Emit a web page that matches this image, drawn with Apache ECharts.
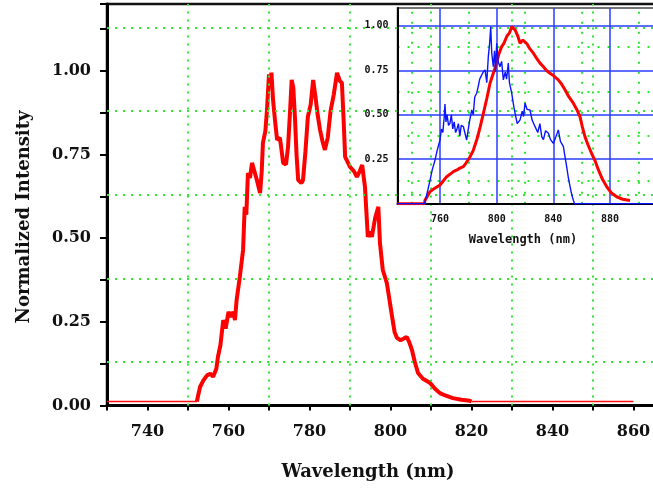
<!DOCTYPE html>
<html>
<head>
<meta charset="utf-8">
<script src="https://cdn.jsdelivr.net/npm/echarts@6/dist/echarts.min.js"></script>
<style>
  html, body { margin: 0; padding: 0; background: #fff; }
  #chart { width: 653px; height: 489px; }
</style>
</head>
<body>
<div id="chart"></div>
<script>
// main spectrum (nm, normalized)
const mainWl = [752.2, 752.5, 753, 753.8, 754.7, 755.5, 756.2, 757, 757.4, 758, 758.7, 759.3, 760, 760.6, 761.2, 761.6, 762, 762.8, 763.6, 764,
  764.4, 764.8, 765.3, 765.8, 766.4, 767, 767.8, 768.2, 768.5, 769.1, 769.5, 770, 770.3, 770.6, 771, 771.5, 772, 772.7, 773.5, 774.2,
  774.7, 775.2, 775.6, 776, 776.4, 776.8, 777.2, 778, 778.4, 779, 779.6, 780.3, 780.9, 781.5, 782, 782.6, 783.2, 783.8, 784.5, 785.2,
  786, 786.8, 787.5, 788, 788.4, 788.8, 790, 791, 791.7, 792.4, 793, 793.7, 794.4, 795, 795.4, 796.2, 797, 797.4, 798.1, 799.1,
  800.4, 801, 801.6, 802.5, 803.3, 804, 804.6, 805.3, 806, 806.8, 808, 809.8, 811, 812.2, 813.5, 815.4, 817.5, 819.6, 820];
const mainVal = [0.012, 0.03, 0.056, 0.075, 0.09, 0.095, 0.086, 0.11, 0.146, 0.18, 0.255, 0.23, 0.28, 0.265, 0.28, 0.255, 0.315, 0.385, 0.465, 0.594,
  0.57, 0.695, 0.68, 0.725, 0.70, 0.674, 0.635, 0.70, 0.785, 0.82, 0.883, 0.99, 0.96, 0.995, 0.913, 0.85, 0.794, 0.80, 0.725, 0.72,
  0.773, 0.88, 0.973, 0.95, 0.863, 0.75, 0.674, 0.665, 0.674, 0.76, 0.863, 0.90, 0.973, 0.92, 0.87, 0.824, 0.79, 0.764, 0.80, 0.88,
  0.93, 0.994, 0.97, 0.964, 0.86, 0.743, 0.713, 0.70, 0.683, 0.70, 0.719, 0.653, 0.504, 0.52, 0.504, 0.56, 0.594, 0.485, 0.405, 0.366,
  0.265, 0.22, 0.202, 0.195, 0.20, 0.205, 0.19, 0.166, 0.13, 0.097, 0.08, 0.067, 0.05, 0.037, 0.03, 0.022, 0.017, 0.014, 0.012];
const baseLeft = [[730, 0.012], [752.2, 0.012]];
const baseRight = [[820, 0.012], [860, 0.012]];

// inset spectra
const insetRedWl = [730, 749, 749.4, 751, 753, 756, 760, 762, 764.7, 767, 769.4, 772, 774, 776.5, 778.5, 781.2, 783.5, 785.9, 788, 790.6,
  793, 795.3, 797.5, 800, 801.5, 803.5, 805, 807.1, 809, 810.6, 812, 813, 815, 816.5, 818.5, 821.2, 823.5, 825.9, 828, 830.6,
  833, 835, 837.6, 840, 843.5, 846, 848.2, 851, 854.1, 856.5, 858.8, 860.5, 862.3, 864.5, 867, 869.5, 871.8, 874.5, 877.6, 881,
  884.7, 889, 894.1];
const insetRedVal = [0, 0, 0.02, 0.04, 0.068, 0.085, 0.105, 0.125, 0.152, 0.165, 0.18, 0.19, 0.2, 0.208, 0.23, 0.264, 0.30, 0.358, 0.42, 0.508,
  0.59, 0.677, 0.73, 0.79, 0.84, 0.883, 0.90, 0.94, 0.96, 0.995, 1.0, 0.977, 0.94, 0.902, 0.92, 0.90, 0.87, 0.846, 0.82, 0.79,
  0.77, 0.75, 0.733, 0.72, 0.696, 0.67, 0.64, 0.60, 0.565, 0.53, 0.489, 0.43, 0.377, 0.33, 0.283, 0.24, 0.19, 0.14, 0.096, 0.06,
  0.039, 0.025, 0.018];
const insetBlueWl = [730, 749, 750, 751.5, 753, 754.5, 756.5, 758, 760, 761, 762, 763, 763.5, 764.2, 765, 766, 767, 768, 769, 770,
  771, 771.8, 773, 774, 775, 776.5, 777.5, 778.8, 780, 781, 782.4, 783.5, 784.5, 785.9, 787, 788, 789.4, 790.5, 791.8, 793,
  794.1, 795, 795.8, 796.5, 797.6, 798.5, 799.2, 800, 801, 802.3, 803.5, 804.7, 806, 807, 808.2, 809, 810.6, 812, 813, 814.5,
  816.5, 818, 819, 820, 821.5, 823.5, 825, 827.1, 829, 830.5, 831.8, 833, 834.5, 836.5, 838, 840, 841.5, 843.5, 845, 847.1,
  848.3, 849.4, 850.5, 851.8, 853, 854.1, 855, 920];
const insetBlueVal = [0, 0, 0.03, 0.08, 0.133, 0.19, 0.246, 0.3, 0.358, 0.42, 0.40, 0.49, 0.56, 0.46, 0.50, 0.44, 0.452, 0.50, 0.42, 0.46,
  0.40, 0.415, 0.45, 0.38, 0.44, 0.433, 0.40, 0.358, 0.42, 0.47, 0.527, 0.50, 0.60, 0.621, 0.66, 0.70, 0.696, 0.74, 0.752, 0.68,
  0.827, 0.9, 0.995, 0.85, 0.77, 0.86, 0.74, 0.902, 0.8, 0.77, 0.80, 0.696, 0.74, 0.70, 0.79, 0.68, 0.621, 0.55, 0.508, 0.45,
  0.471, 0.52, 0.49, 0.565, 0.53, 0.527, 0.47, 0.433, 0.40, 0.45, 0.377, 0.36, 0.41, 0.396, 0.36, 0.339, 0.37, 0.415, 0.35, 0.321,
  0.26, 0.208, 0.15, 0.096, 0.05, 0.02, 0, 0];

// grid line positions
const mainGridX = [750, 770, 790, 810, 830, 850];
const mainGridY = [0.125, 0.375, 0.625, 0.875, 1.125];
const insetMajorX = [760, 800, 840, 880];
const insetMajorY = [0.25, 0.5, 0.75, 1.0];
const insetMinorX = [740, 780, 820, 860, 900];
const insetMinorY = [0.125, 0.375, 0.625, 0.875];

const zip = (a, b) => a.map((x, i) => [x, b[i]]);

const GREEN = '#2ee82e';
const dotted = { color: GREEN, width: 2, type: [2, 6] };
const tickFont = { fontFamily: 'DejaVu Serif', fontWeight: 'bold', fontSize: 16, color: '#111' };
const smallFont = { fontFamily: 'DejaVu Sans Mono', fontWeight: 'bold', fontSize: 10, color: '#111' };

function gridLines(xs, ys, style) {
    return {
        silent: true,
        symbol: 'none',
        label: { show: false },
        lineStyle: style,
        data: xs.map(v => ({ xAxis: v })).concat(ys.map(v => ({ yAxis: v })))
    };
}

const chart = echarts.init(document.getElementById('chart'), null, { renderer: 'canvas' });

chart.setOption({
    backgroundColor: '#fff',
    animation: false,
    grid: [
        { left: 107, top: 4, right: -21, bottom: 83.5, outerBoundsMode: 'none', containLabel: false,
          show: true, borderColor: '#111', borderWidth: 2.5, z: 0 },
        { left: 397.5, top: 8, right: -13.7, bottom: 285.3, outerBoundsMode: 'none', containLabel: false,
          show: true, backgroundColor: '#fff', borderColor: '#444', borderWidth: 1.5, z: 5 }
    ],
    xAxis: [
        {
            type: 'value', gridIndex: 0, min: 730, max: 870, interval: 10,
            axisLine: { lineStyle: { color: '#000', width: 3 } },
            axisTick: { length: 5, lineStyle: { color: '#000', width: 2 } },
            axisLabel: Object.assign({ margin: 18, formatter: v => (v % 20 === 0 && v >= 740 && v <= 860) ? String(v) : '' }, tickFont),
            splitLine: { show: false }
        },
        {
            type: 'value', gridIndex: 1, min: 730, max: 920, interval: 10, z: 6,
            axisLine: { lineStyle: { color: '#000', width: 2 } },
            axisTick: { show: false },
            axisLabel: Object.assign({ margin: 11, formatter: v => (v % 40 === 0 && v >= 760 && v <= 880) ? String(v) : '' }, smallFont),
            splitLine: { show: false }
        }
    ],
    yAxis: [
        {
            type: 'value', gridIndex: 0, min: 0, max: 1.2, interval: 0.125,
            axisLine: { lineStyle: { color: '#000', width: 3 } },
            axisTick: { length: 7, lineStyle: { color: '#000', width: 2 } },
            axisLabel: Object.assign({
                margin: 16,
                formatter: v => {
                    const r = Math.round(v * 4);
                    return (Math.abs(v * 4 - r) < 1e-6 && v <= 1.0) ? v.toFixed(2) : '';
                }
            }, tickFont),
            splitLine: { show: false }
        },
        {
            type: 'value', gridIndex: 1, min: 0, max: 1.1, interval: 0.25, z: 6,
            axisLine: { lineStyle: { color: '#000', width: 2 } },
            axisTick: { show: false },
            axisLabel: Object.assign({ margin: 9, formatter: v => (v > 0.01 && v <= 1.0) ? v.toFixed(2) : '' }, smallFont),
            splitLine: { show: false }
        }
    ],
    series: [
        {
            type: 'line', xAxisIndex: 0, yAxisIndex: 0, data: [], z: 1,
            markLine: gridLines(mainGridX, mainGridY, dotted)
        },
        {
            type: 'line', xAxisIndex: 0, yAxisIndex: 0, data: baseLeft, z: 3, showSymbol: false,
            lineStyle: { color: '#ff1010', width: 1.5 }
        },
        {
            type: 'line', xAxisIndex: 0, yAxisIndex: 0, data: baseRight, z: 3, showSymbol: false,
            lineStyle: { color: '#ff1010', width: 1.5 }
        },
        {
            type: 'line', xAxisIndex: 0, yAxisIndex: 0, data: zip(mainWl, mainVal), z: 3, showSymbol: false,
            lineStyle: { color: '#ff0000', width: 4 }
        },
        {
            type: 'line', xAxisIndex: 1, yAxisIndex: 1, data: [], z: 6,
            markLine: gridLines(insetMinorX, insetMinorY, { color: GREEN, width: 2, type: [2, 8] })
        },
        {
            type: 'line', xAxisIndex: 1, yAxisIndex: 1, data: [], z: 6,
            markLine: gridLines(insetMajorX, insetMajorY, { color: '#2a3cff', width: 1.5, type: 'solid' })
        },
        {
            type: 'line', xAxisIndex: 1, yAxisIndex: 1, data: zip(insetRedWl, insetRedVal), z: 7, showSymbol: false,
            lineStyle: { color: '#ff0000', width: 3 }
        },
        {
            type: 'line', xAxisIndex: 1, yAxisIndex: 1, data: zip(insetBlueWl, insetBlueVal), z: 8, showSymbol: false,
            lineStyle: { color: '#0a14ff', width: 1.4 }
        }
    ],
    graphic: [
        {
            type: 'text', x: 24, y: 217, rotation: Math.PI / 2, z: 10,
            style: { text: 'Normalized Intensity', font: 'bold 18px "DejaVu Serif"', fill: '#111',
                     textAlign: 'center', textVerticalAlign: 'middle' }
        },
        {
            type: 'text', x: 368, y: 472, z: 10,
            style: { text: 'Wavelength (nm)', font: 'bold 18px "DejaVu Serif"', fill: '#111',
                     textAlign: 'center', textVerticalAlign: 'middle' }
        },
        {
            type: 'text', x: 523, y: 240, z: 10,
            style: { text: 'Wavelength (nm)', font: 'bold 12px "DejaVu Sans Mono"', fill: '#111',
                     textAlign: 'center', textVerticalAlign: 'middle' }
        }
    ]
});
</script>
</body>
</html>
